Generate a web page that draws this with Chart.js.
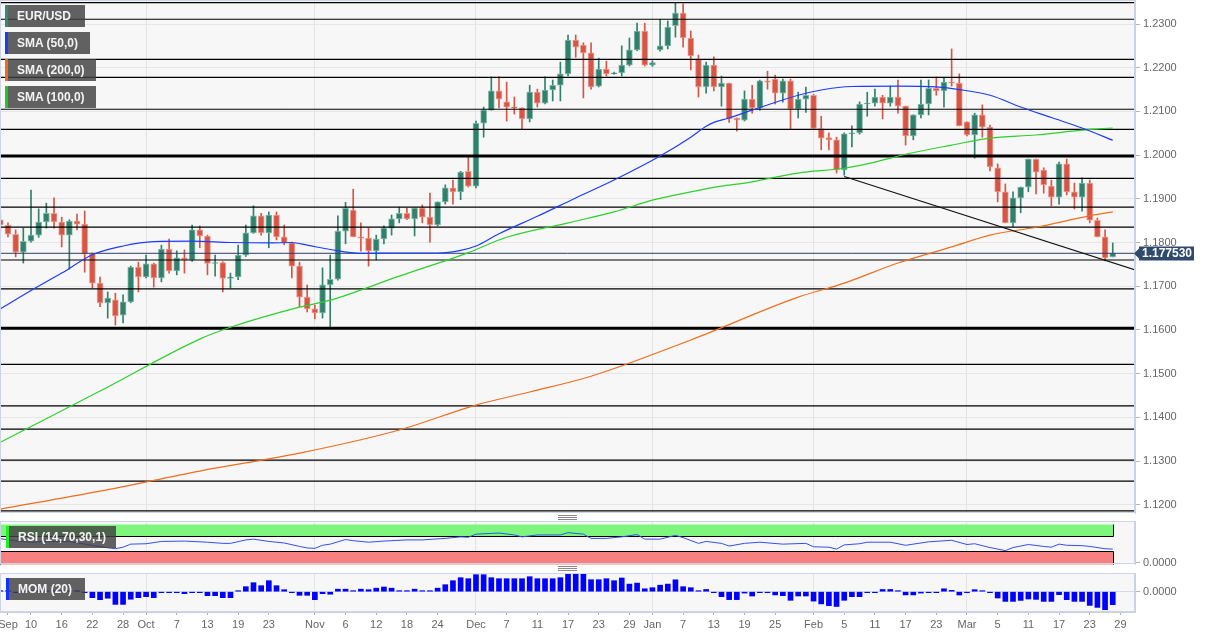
<!DOCTYPE html>
<html>
<head>
<meta charset="utf-8">
<script src="https://cdn.jsdelivr.net/npm/chart.js@4.4.0/dist/chart.umd.min.js"></script>
<style>
  body { margin:0; background:#fff; width:1212px; height:637px; overflow:hidden; position:relative;
         font-family: Arial, "Liberation Sans", sans-serif; }
  canvas { position:absolute; left:0; }
  .tag { position:absolute; left:5px; height:22px; line-height:22px; background:rgba(64,64,64,.82);
         color:#f4f4f4; font-size:12px; font-weight:bold; padding-left:9px; box-sizing:border-box;
         border-left:3px solid; white-space:nowrap; }
  .grip { position:absolute; left:558px; width:19px; height:1px; background:#8a8a8a; }
</style>
</head>
<body>
<canvas id="main" width="1212" height="516" style="top:0"></canvas>
<canvas id="rsi" width="1212" height="62" style="top:514px"></canvas>
<canvas id="mom" width="1212" height="70" style="top:567px"></canvas>

<div class="tag" style="top:5px;width:80px;border-color:#2e8b77">EUR/USD</div>
<div class="tag" style="top:32px;width:85px;border-color:#1a3cff">SMA (50,0)</div>
<div class="tag" style="top:59px;width:91px;border-color:#ee6a1c">SMA (200,0)</div>
<div class="tag" style="top:86px;width:91px;border-color:#1ec81e">SMA (100,0)</div>
<div class="tag" style="top:526px;left:6px;width:110px;border-color:#22ee22">RSI (14,70,30,1)</div>
<div class="tag" style="top:578px;left:6px;width:79px;border-color:#1133ff">MOM (20)</div>

<div class="grip" style="top:515px"></div><div class="grip" style="top:517px"></div><div class="grip" style="top:519px"></div>
<div class="grip" style="top:566px"></div><div class="grip" style="top:568px"></div><div class="grip" style="top:570px"></div>

<script>
// daily candles, Sep 4 2020 .. Mar 26 2021 (index = trading day)
const opens = [1.1852,1.1840,1.1819,1.1778,1.1803,1.1817,1.1847,1.1867,1.1847,1.1817,
  1.1849,1.1842,1.1774,1.1707,1.1662,1.1669,1.1634,1.1664,1.1744,1.1721,
  1.1751,1.1719,1.1785,1.1735,1.1765,1.1760,1.1829,1.1815,1.1752,1.1754,
  1.1718,1.1721,1.1771,1.1822,1.1861,1.1822,1.1863,1.1813,1.1799,1.1746,
  1.1675,1.1648,1.1639,1.1703,1.1716,1.1826,1.1874,1.1813,1.1810,1.1781,
  1.1808,1.1833,1.1854,1.1867,1.1854,1.1879,1.1858,1.1840,1.1893,1.1925,
  1.1916,1.1963,1.1929,1.2073,1.2103,1.2147,1.2122,1.2110,1.2108,1.2083,
  1.2144,1.2119,1.2149,1.2160,1.2186,1.2263,1.2252,1.2234,1.2158,1.2197,
  1.2186,1.2188,1.2206,1.2241,1.2284,1.2206,1.2241,1.2250,1.2296,1.2325,
  1.2268,1.2220,1.2156,1.2206,1.2156,1.2165,1.2085,1.2080,1.2128,1.2108,
  1.2170,1.2174,1.2142,1.2170,1.2105,1.2128,1.2137,1.2061,1.2040,1.2035,
  1.1966,1.2049,1.2051,1.2117,1.2119,1.2133,1.2119,1.2133,1.2112,1.2044,
  1.2092,1.2117,1.2153,1.2147,1.2167,1.2165,1.2076,1.2046,1.2092,1.2064,
  1.1971,1.1916,1.1845,1.1902,1.1927,1.1991,1.1966,1.1929,1.1904,1.1980,
  1.1916,1.1904,1.1936,1.1851,1.1813,1.1767];
const highs = [1.1868,1.1845,1.1829,1.1833,1.1920,1.1877,1.1890,1.1902,1.1858,1.1852,
  1.1865,1.1872,1.1776,1.1721,1.1687,1.1684,1.1680,1.1746,1.1755,1.1771,
  1.1753,1.1794,1.1808,1.1781,1.1783,1.1840,1.1838,1.1817,1.1771,1.1756,
  1.1730,1.1794,1.1840,1.1884,1.1867,1.1870,1.1870,1.1840,1.1801,1.1755,
  1.1703,1.1657,1.1742,1.1771,1.1861,1.1892,1.1922,1.1845,1.1833,1.1817,
  1.1838,1.1863,1.1881,1.1879,1.1879,1.1886,1.1913,1.1893,1.1932,1.1943,
  1.1963,1.1995,1.2078,1.2110,1.2179,1.2179,1.2167,1.2133,1.2108,1.2160,
  1.2151,1.2179,1.2172,1.2213,1.2275,1.2275,1.2257,1.2257,1.2222,1.2215,
  1.2190,1.2250,1.2268,1.2302,1.2302,1.2216,1.2311,1.2307,1.2348,1.2346,
  1.2284,1.2229,1.2213,1.2225,1.2181,1.2165,1.2085,1.2147,1.2160,1.2172,
  1.2192,1.2183,1.2174,1.2174,1.2144,1.2156,1.2139,1.2089,1.2051,1.2041,
  1.2051,1.2067,1.2122,1.2144,1.2151,1.2137,1.2158,1.2172,1.2112,1.2092,
  1.2172,1.2172,1.2179,1.2176,1.2243,1.2186,1.2076,1.2096,1.2115,1.2069,
  1.1980,1.1934,1.1916,1.1927,1.1991,1.1991,1.1971,1.1943,1.1984,1.1991,
  1.1936,1.1948,1.1943,1.1856,1.1829,1.1799];
const lows = [1.1826,1.1813,1.1767,1.1753,1.1801,1.1812,1.1833,1.1833,1.1790,1.1739,
  1.1829,1.1732,1.1696,1.1653,1.1627,1.1611,1.1616,1.1662,1.1687,1.1719,
  1.1698,1.1710,1.1730,1.1726,1.1730,1.1757,1.1788,1.1726,1.1723,1.1687,
  1.1696,1.1715,1.1768,1.1821,1.1817,1.1788,1.1806,1.1795,1.1719,1.1653,
  1.1641,1.1625,1.1627,1.1607,1.1714,1.1797,1.1813,1.1780,1.1746,1.1760,
  1.1797,1.1817,1.1845,1.1852,1.1815,1.1845,1.1801,1.1838,1.1888,1.1888,
  1.1898,1.1927,1.1925,1.2041,1.2103,1.2108,1.2078,1.2094,1.2060,1.2076,
  1.2110,1.2117,1.2124,1.2124,1.2181,1.2224,1.2131,1.2151,1.2156,1.2181,
  1.2185,1.2181,1.2204,1.2239,1.2204,1.2203,1.2238,1.2243,1.2270,1.2247,
  1.2195,1.2133,1.2142,1.2147,1.2112,1.2075,1.2055,1.2078,1.2096,1.2103,
  1.2151,1.2117,1.2121,1.2059,1.2085,1.2098,1.2058,1.2012,1.2012,1.1959,
  1.1954,1.2019,1.2048,1.2089,1.2112,1.2083,1.2112,1.2096,1.2023,1.2035,
  1.2085,1.2092,1.2137,1.2110,1.2158,1.2067,1.2044,1.1993,1.2041,1.1964,
  1.1893,1.1845,1.1836,1.1868,1.1916,1.1911,1.1913,1.1884,1.1888,1.1909,
  1.1877,1.1872,1.1845,1.1813,1.1758,1.1767];
const closes = [1.1840,1.1819,1.1778,1.1803,1.1817,1.1847,1.1867,1.1847,1.1817,1.1849,
  1.1842,1.1774,1.1707,1.1662,1.1673,1.1632,1.1664,1.1744,1.1721,1.1751,
  1.1719,1.1785,1.1735,1.1765,1.1760,1.1829,1.1815,1.1752,1.1754,1.1718,
  1.1721,1.1771,1.1822,1.1861,1.1822,1.1863,1.1813,1.1799,1.1746,1.1675,
  1.1648,1.1639,1.1703,1.1716,1.1826,1.1878,1.1813,1.1810,1.1781,1.1808,
  1.1833,1.1854,1.1867,1.1854,1.1879,1.1858,1.1840,1.1893,1.1925,1.1916,
  1.1961,1.1929,1.2073,1.2103,1.2147,1.2128,1.2110,1.2108,1.2083,1.2144,
  1.2119,1.2149,1.2160,1.2186,1.2263,1.2247,1.2234,1.2156,1.2197,1.2186,
  1.2188,1.2206,1.2241,1.2284,1.2206,1.2212,1.2250,1.2293,1.2325,1.2268,
  1.2227,1.2156,1.2206,1.2156,1.2165,1.2083,1.2080,1.2128,1.2108,1.2170,
  1.2167,1.2142,1.2170,1.2105,1.2128,1.2137,1.2061,1.2039,1.2035,1.1966,
  1.2049,1.2051,1.2117,1.2119,1.2133,1.2119,1.2133,1.2112,1.2044,1.2092,
  1.2117,1.2153,1.2147,1.2167,1.2165,1.2067,1.2046,1.2092,1.2064,1.1973,
  1.1916,1.1845,1.1902,1.1927,1.1991,1.1961,1.1932,1.1904,1.1980,1.1916,
  1.1904,1.1936,1.1851,1.1813,1.1765,1.17753];

// moving averages: [day index, price]
const sma50 = [[0,1.1648],[4,1.1690],[8,1.1730],[12,1.1772],[16,1.1792],[20,1.1802],[25,1.1803],
  [30,1.1800],[35,1.1799],[38,1.1800],[40,1.1794],[43,1.1784],[47,1.1775],[52,1.1776],[57,1.1776],
  [60,1.1782],[62,1.1792],[65,1.1820],[70,1.1860],[75,1.1902],[80,1.1943],[86,1.1998],[90,1.2041],
  [92,1.2066],[93,1.2075],[95,1.2085],[98,1.2103],[104,1.2137],[107,1.2149],[111,1.2157],
  [117,1.2158],[122,1.2156],[125,1.2150],[129,1.2137],[133,1.2110],[137,1.2086],[141,1.2062],[145,1.2034]];
const sma100 = [[0,1.1343],[13,1.1460],[26,1.1579],[30,1.1606],[39,1.1652],[43,1.1668],[52,1.1723],
  [61,1.1777],[66,1.1812],[74,1.1845],[80,1.1870],[85,1.1897],[90,1.1916],[94,1.1929],[97,1.1936],
  [104,1.1959],[110,1.1970],[114,1.1984],[118,1.2002],[124,1.2023],[129,1.2039],[135,1.2046],
  [141,1.2057],[145,1.2062]];
const sma200 = [[0,1.1190],[13,1.1231],[26,1.1277],[39,1.1318],[52,1.1371],[62,1.1428],[69,1.1458],
  [77,1.1494],[90,1.1577],[104,1.1675],[110,1.1707],[117,1.1753],[124,1.1790],[129,1.1817],
  [135,1.1835],[142,1.1861],[145,1.1870]];

// support / resistance lines and the falling trendline
const levels = [1.2349,1.2311,1.2219,1.2178,1.2105,1.2059,1.1947,1.1881,1.1835,1.1760,1.1694,
  1.1521,1.1426,1.1373,1.1302,1.1254,1.1186];
const majorLevels = [1.1998,1.1604];
const trendX = [110,148];
const trendY = [1.1951,1.1737];

// RSI (14): [day index, value]
const rsi = [[0,62],[2,57],[4,53],[6,55],[9,55],[11,48],[13,41],[15,36],[16,40],[17,48],[19,49],
  [21,55],[24,56],[27,53],[29,50],[30,50],[32,59],[33,61],[35,55],[37,51],[39,42],[40,38],[41,37],
  [42,45],[43,48],[45,60],[46,57],[48,53],[50,56],[53,59],[55,59],[58,63],[60,67],[61,66],[62,74],
  [64,76],[65,77],[67,72],[68,67],[70,72],[73,72],[74,78],[76,74],[77,63],[79,63],[81,67],[83,73],
  [84,61],[86,61],[88,71],[89,65],[91,50],[92,55],[94,50],[95,43],[97,50],[99,53],[102,48],[105,50],
  [106,41],[108,40],[109,35],[110,46],[112,49],[113,53],[116,53],[118,45],[121,54],[124,58],[126,47],
  [127,49],[129,39],[131,31],[132,39],[134,47],[136,42],[137,40],[138,48],[139,45],[141,44],[142,42],
  [144,36],[145,35]];
const rsiUpper = [70,100];
const rsiLower = [30,0];

// momentum (20), one bar per day
const mom = [0.0012,0.0009,-0.0009,0.0012,0.0018,0.0014,0.0023,0.0014,0.0009,0.0014,
  0.0018,-0.0014,-0.0138,-0.0184,-0.0150,-0.0292,-0.0292,-0.0173,-0.0138,-0.0115,
  -0.0138,-0.0023,-0.0018,-0.0023,-0.0046,-0.0012,-0.0018,-0.0092,-0.0092,-0.0138,
  -0.0138,0.0012,0.0115,0.0207,0.0138,0.0253,0.0138,0.0046,-0.0012,-0.0083,
  -0.0083,-0.0184,-0.0046,-0.0058,0.0058,0.0058,0.0007,0.0058,0.0046,0.0081,
  0.0108,0.0081,0.0023,0.0007,0.0058,0.0007,0.0007,0.0081,0.0161,0.0253,
  0.0322,0.0299,0.0391,0.0391,0.0322,0.0299,0.0299,0.0299,0.0299,0.0345,
  0.0299,0.0299,0.0299,0.0322,0.0414,0.0414,0.0414,0.0276,0.0276,0.0299,
  0.0253,0.0315,0.0175,0.0198,0.0067,0.0092,0.0150,0.0175,0.0274,0.0115,
  0.0092,0.0007,0.0051,-0.0016,-0.0115,-0.0182,-0.0182,-0.0032,-0.0099,-0.0007,
  -0.0007,-0.0074,-0.0092,-0.0198,-0.0099,-0.0099,-0.0216,-0.0281,-0.0322,-0.0340,
  -0.0198,-0.0115,-0.0115,-0.0023,-0.0016,0.0051,0.0051,0.0007,-0.0074,-0.0074,
  -0.0032,-0.0016,-0.0016,0.0067,0.0032,-0.0076,-0.0012,0.0046,0.0023,-0.0007,
  -0.0145,-0.0223,-0.0223,-0.0200,-0.0168,-0.0177,-0.0223,-0.0223,-0.0069,-0.0184,
  -0.0223,-0.0223,-0.0315,-0.0361,-0.0414,-0.0299];

// axes
const yTicks = [1.12,1.13,1.14,1.15,1.16,1.17,1.18,1.19,1.20,1.21,1.22,1.23];
const tickIdx = [1,4,8,12,16,19,23,27,31,35,41,45,49,53,57,62,66,70,74,78,82,85,89,93,97,101,
  106,110,114,118,122,126,130,134,138,142,146];
const tickText = ['Sep','10','16','22','28','Oct','7','13','19','23','Nov','6','12','18','24',
  'Dec','7','11','17','23','29','Jan','7','13','19','25','Feb','5','11','17','23','Mar','5','11',
  '17','23','29'];
const monthIdx = [19,41,62,85,106,126];

const xMin = -0.04, xMax = 147.9;
const yMin = 1.1181, yMax = 1.2355;
const UP = '#30806c', DOWN = '#d65646';

Chart.defaults.font.family = 'Arial, "Liberation Sans", sans-serif';
Chart.defaults.animation = false;

const days = closes.map((_, i) => i);
const isUp = days.map(i => closes[i] >= opens[i]);

function xAxis(withLabels) {
  return {
    type: 'linear', min: xMin, max: xMax, offset: false,
    grid: {
      offset: false, drawTicks: withLabels, tickLength: 3, tickColor: '#a9b0c0',
      color: c => (c.tick && monthIdx.includes(c.tick.value)) ? '#e3e3e3' : 'rgba(0,0,0,0)'
    },
    border: { display: withLabels, color: '#c9d1e1' },
    ticks: {
      display: withLabels, autoSkip: false, maxRotation: 0, color: '#666', padding: 3,
      font: { size: 11 },
      callback: v => { const k = tickIdx.indexOf(v); return k < 0 ? '' : tickText[k]; }
    },
    afterBuildTicks: s => { s.ticks = (withLabels ? tickIdx : monthIdx).map(v => ({ value: v })); },
    afterFit: s => { s.height = withLabels ? 25 : 0; s.paddingLeft = 0; s.paddingRight = 0; }
  };
}

function yAxis(min, max, ticks, gridColor) {
  return {
    position: 'right', min: min, max: max,
    grid: { color: gridColor, tickLength: 5, tickColor: '#aeb5c4' },
    border: { color: '#c9d1e1' },
    ticks: { color: '#666', padding: 3, font: { size: 11 }, callback: v => v.toFixed(4) },
    afterBuildTicks: s => { s.ticks = ticks.map(v => ({ value: v })); },
    afterFit: s => { s.width = 77; s.paddingTop = 0; s.paddingBottom = 0; }
  };
}

const panel = {
  id: 'panel',
  beforeDraw(chart) {
    const { ctx, chartArea: a } = chart;
    ctx.save();
    ctx.fillStyle = '#f7f7f7';
    ctx.fillRect(a.left, a.top, a.right - a.left, a.bottom - a.top);
    ctx.restore();
  },
  afterDraw(chart) {
    const { ctx, chartArea: a } = chart;
    ctx.save();
    ctx.strokeStyle = '#cdd4e3';
    ctx.lineWidth = 1;
    ctx.strokeRect(a.left + 0.5, a.top + 0.5, a.right - a.left - 1, a.bottom - a.top - 1);
    ctx.restore();
  }
};

const pts = arr => arr.map(([x, y]) => ({ x, y }));
const hline = (v, w, color, order) => ({
  type: 'line', data: [{ x: xMin, y: v }, { x: xMax, y: v }],
  borderColor: color, borderWidth: w, pointRadius: 0, order: order
});

const lastClose = closes[closes.length - 1];

const priceTag = {
  id: 'priceTag',
  afterDraw(chart) {
    const { ctx, chartArea: a } = chart;
    const y = Math.round(chart.scales.y.getPixelForValue(lastClose)) + 0.5;
    ctx.save();
    ctx.fillStyle = '#2f4a6c';
    ctx.beginPath();
    ctx.moveTo(a.right - 1, y);
    ctx.lineTo(a.right + 4, y - 5);
    ctx.lineTo(a.right + 4, y - 7);
    ctx.lineTo(a.right + 59, y - 7);
    ctx.lineTo(a.right + 59, y + 7);
    ctx.lineTo(a.right + 4, y + 7);
    ctx.lineTo(a.right + 4, y + 5);
    ctx.closePath();
    ctx.fill();
    ctx.fillStyle = '#fff';
    ctx.font = 'bold 12px Arial, "Liberation Sans", sans-serif';
    ctx.textAlign = 'center';
    ctx.textBaseline = 'middle';
    ctx.fillText(lastClose.toFixed(6), a.right + 32, y + 0.5);
    ctx.restore();
  }
};

new Chart(document.getElementById('main'), {
  type: 'bar',
  data: {
    datasets: [
      {
        type: 'bar', grouped: false, order: 20, barThickness: 6, minBarLength: 1,
        data: days.map(i => ({ x: i, y: [opens[i], closes[i]] })),
        backgroundColor: days.map(i => isUp[i] ? UP : DOWN),
        borderColor: days.map(i => isUp[i] ? 'rgba(120,180,165,0.9)' : 'rgba(236,150,140,0.9)'),
        borderWidth: 1, borderSkipped: false
      },
      {
        type: 'bar', grouped: false, order: 21, barThickness: 1,
        data: days.map(i => ({ x: i, y: [lows[i], highs[i]] })),
        backgroundColor: days.map(i => isUp[i] ? UP : DOWN)
      },
      ...levels.map(v => hline(v, 1.2, '#000', 10)),
      ...majorLevels.map(v => hline(v, 3, '#000', 10)),
      hline(lastClose, 1, '#2c3e64', 9),
      { type: 'line', data: pts(sma200), borderColor: '#f06e1e', borderWidth: 1.2, pointRadius: 0,
        cubicInterpolationMode: 'monotone', order: 5 },
      { type: 'line', data: pts(sma100), borderColor: '#2ed02e', borderWidth: 1.2, pointRadius: 0,
        cubicInterpolationMode: 'monotone', order: 5 },
      { type: 'line', data: pts(sma50), borderColor: '#1e3cff', borderWidth: 1.2, pointRadius: 0,
        cubicInterpolationMode: 'monotone', order: 4 },
      { type: 'line', data: trendX.map((x, k) => ({ x, y: trendY[k] })), borderColor: '#111',
        borderWidth: 1.1, pointRadius: 0, order: 3 }
    ]
  },
  options: {
    responsive: false,
    layout: { padding: { left: 0, right: 0, top: 0, bottom: 3 } },
    plugins: { legend: { display: false }, tooltip: { enabled: false } },
    events: [],
    scales: { x: xAxis(false), y: yAxis(yMin, yMax, yTicks, '#e6e6e6') }
  },
  plugins: [panel, priceTag]
});

const rsiBands = {
  id: 'rsiBands',
  beforeDatasetsDraw(chart) {
    const { ctx } = chart;
    const xs = chart.scales.x, ys = chart.scales.y;
    const x0 = Math.round(xs.getPixelForValue(rsi[0][0])) + 0.5;
    const x1 = Math.round(xs.getPixelForValue(rsi[rsi.length - 1][0])) + 0.5;
    const band = (a, b, fill, edge) => {
      const yA = Math.round(ys.getPixelForValue(a)) + 0.5;
      const yB = Math.round(ys.getPixelForValue(b)) + 0.5;
      ctx.fillStyle = fill;
      ctx.fillRect(x0, Math.min(yA, yB), x1 - x0, Math.abs(yB - yA));
      ctx.strokeStyle = '#000';
      ctx.lineWidth = 1;
      ctx.beginPath();
      ctx.moveTo(x0, yB); ctx.lineTo(x0, yA); ctx.lineTo(x1, yA); ctx.lineTo(x1, yB);
      ctx.stroke();
    };
    ctx.save();
    band(rsiUpper[0], rsiUpper[1], '#7ef67e');
    band(rsiLower[0], ys.min, '#f98080');
    ctx.restore();
  }
};

new Chart(document.getElementById('rsi'), {
  type: 'line',
  data: {
    datasets: [{ data: pts(rsi), borderColor: '#3350ee', borderWidth: 1, pointRadius: 0 }]
  },
  options: {
    responsive: false,
    layout: { padding: { left: 0, right: 0, top: 7, bottom: 12 } },
    plugins: { legend: { display: false }, tooltip: { enabled: false } },
    events: [],
    scales: { x: xAxis(false), y: yAxis(-3.9, 108.4, [0], 'rgba(0,0,0,0)') }
  },
  plugins: [panel, rsiBands]
});

new Chart(document.getElementById('mom'), {
  type: 'bar',
  data: {
    datasets: [{
      grouped: false, barThickness: 5, minBarLength: 1,
      data: days.map(i => ({ x: i, y: mom[i] })),
      backgroundColor: '#0000ff'
    }]
  },
  options: {
    responsive: false,
    layout: { padding: { left: 0, right: 0, top: 6, bottom: 0 } },
    plugins: { legend: { display: false }, tooltip: { enabled: false } },
    events: [],
    scales: { x: xAxis(true), y: yAxis(-0.0467, 0.0430, [0], '#d5dae6') }
  },
  plugins: [panel]
});
</script>
</body>
</html>
